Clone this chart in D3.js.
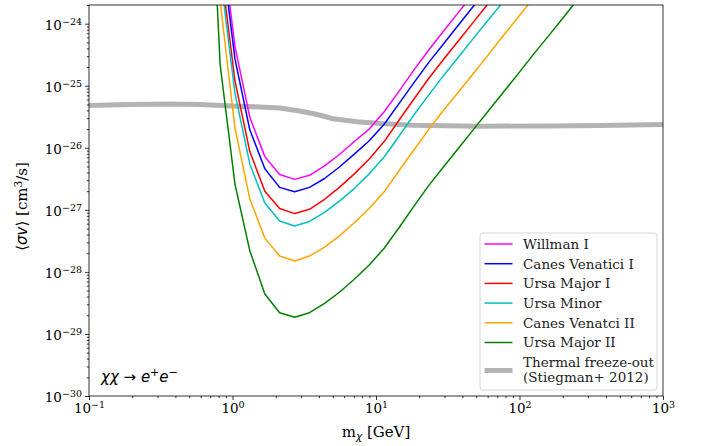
<!DOCTYPE html>
<html>
<head>
    <meta charset="utf-8">
    <title>Dwarf limits - chi chi to e+ e-</title>
    <style>
        body { margin: 0; background: #fff; }
        .curve { fill: none; stroke-linejoin: round; }
    </style>
    <script src="https://d3js.org/d3.v7.min.js"></script>
</head>
<body>
    <div id="chart"></div>
    <script>
        // dark matter mass grid [GeV]
        const masses = [0.645, 0.82, 1.04, 1.32, 1.68, 2.13, 2.71, 3.44, 4.38, 5.56, 7.06, 8.97,
            11.4, 14.5, 18.4, 23.4, 29.7, 37.8, 48.0, 61.0, 77.4, 98.4, 125, 159, 202, 256, 326];

        // <sigma v> limits [cm^3/s], one entry per mass (stops once off the top)
        const willman = [3.6e-18, 3.6e-23, 4.3e-25, 3.1e-26, 7.2e-27, 3.7e-27, 3.1e-27, 3.6e-27, 5.1e-27,
            7.8e-27, 1.26e-26, 2.0e-26, 3.8e-26, 8.2e-26, 1.8e-25, 3.8e-25, 7.7e-25, 1.55e-24, 3.1e-24, 6.2e-24];
        const canesI = [2.3e-18, 2.3e-23, 2.7e-25, 1.95e-26, 4.6e-27, 2.3e-27, 1.95e-27, 2.3e-27, 3.2e-27,
            4.9e-27, 7.9e-27, 1.3e-26, 2.4e-26, 5.2e-26, 1.12e-25, 2.4e-25, 4.8e-25, 9.7e-25, 1.95e-24, 3.9e-24];
        const ursaMajorI = [1.0e-18, 1.0e-23, 1.2e-25, 8.7e-27, 2.0e-27, 1.05e-27, 8.7e-28, 1.02e-27, 1.48e-27,
            2.3e-27, 3.8e-27, 6.6e-27, 1.26e-26, 2.8e-26, 6.1e-26, 1.33e-25, 2.7e-25, 5.4e-25, 1.08e-24, 2.15e-24, 4.3e-24];
        const ursaMinor = [6.5e-19, 6.5e-24, 7.6e-26, 5.5e-27, 1.29e-27, 6.6e-28, 5.5e-28, 6.5e-28, 9.1e-28,
            1.38e-27, 2.2e-27, 3.8e-27, 7.1e-27, 1.55e-26, 3.4e-26, 7.2e-26, 1.48e-25, 2.95e-25, 5.9e-25,
            1.17e-24, 2.3e-24, 4.7e-24];
        const canesII = [1.8e-19, 2.3e-24, 2.1e-26, 1.5e-27, 3.5e-28, 1.8e-28, 1.5e-28, 1.8e-28, 2.5e-28,
            3.8e-28, 6.2e-28, 1.05e-27, 1.95e-27, 4.3e-27, 9.3e-27, 2.0e-26, 4.1e-26, 8.1e-26, 1.6e-25,
            3.2e-25, 6.5e-25, 1.29e-24, 2.6e-24, 5.1e-24];
        const ursaMajorII = [2.2e-20, 2.2e-25, 2.6e-27, 2.2e-28, 4.4e-29, 2.2e-29, 1.86e-29, 2.2e-29, 3.1e-29,
            4.7e-29, 7.6e-29, 1.29e-28, 2.4e-28, 5.2e-28, 1.15e-27, 2.5e-27, 5.0e-27, 1.0e-26, 2.0e-26,
            4.0e-26, 7.9e-26, 1.58e-25, 3.2e-25, 6.3e-25, 1.26e-24, 2.5e-24, 5.0e-24];

        // thermal relic cross section (Steigman+ 2012)
        const thermalMass = [0.1, 0.193, 0.367, 0.594, 1.0, 1.55, 2.14, 2.95, 3.76, 4.41, 5.02, 7.38,
            10.7, 18.1, 53.1, 163, 364, 1000];
        const thermalSv = [4.8e-26, 4.98e-26, 5.06e-26, 4.98e-26, 4.71e-26, 4.54e-26, 4.38e-26, 3.92e-26,
            3.5e-26, 3.19e-26, 2.93e-26, 2.62e-26, 2.46e-26, 2.31e-26, 2.23e-26, 2.24e-26, 2.29e-26, 2.37e-26];

        const names = ["Willman I", "Canes Venatici I", "Ursa Major I", "Ursa Minor", "Canes Venatci II", "Ursa Major II"];
        const colors = ["#ff00ff", "#0000ff", "#ff0000", "#00bfbf", "#ffa500", "#008000"];
        const series = [willman, canesI, ursaMajorI, ursaMinor, canesII, ursaMajorII];

        const xTicks = [0.1, 1, 10, 100, 1000];
        const yTicks = [1e-30, 1e-29, 1e-28, 1e-27, 1e-26, 1e-25, 1e-24];

        const width = 702, height = 446;
        const margin = {top: 5, right: 39, bottom: 50, left: 89};
        const serif = "'DejaVu Serif'";

        const x = d3.scaleLog().domain([0.1, 1000]).range([margin.left, width - margin.right]);
        const y = d3.scaleLog().domain([1e-30, 2e-24]).range([height - margin.bottom, margin.top]);

        const svg = d3.select("#chart").append("svg")
            .attr("width", width)
            .attr("height", height);

        svg.append("clipPath").attr("id", "plot-clip")
            .append("rect")
            .attr("x", x.range()[0]).attr("y", y.range()[1])
            .attr("width", x.range()[1] - x.range()[0])
            .attr("height", y.range()[0] - y.range()[1]);

        const plot = svg.append("g").attr("clip-path", "url(#plot-clip)");

        const line = d3.line().x(d => x(d[0])).y(d => y(d[1]));

        // thermal band first, curves drawn over it
        plot.append("path")
            .attr("class", "curve")
            .attr("d", line(d3.zip(thermalMass, thermalSv)))
            .style("stroke", "#b3b3b3")
            .style("stroke-width", "5px");

        series.forEach((vals, i) => {
            plot.append("path")
                .attr("class", "curve")
                .attr("d", line(vals.map((v, j) => [masses[j], v])))
                .style("stroke", colors[i])
                .style("stroke-width", "1.5px");
        });

        // superscript tick labels
        function powLabel(sel, v) {
            const e = Math.round(Math.log10(v));
            sel.text("")
                .style("font-family", serif).style("font-size", "13.5px").style("fill", "#000");
            sel.append("tspan").text("10");
            sel.append("tspan").attr("dy", "-0.5em").style("font-size", "9.5px")
                .text(String(e).replace("-", "\u2212"));
        }

        const minorX = [];
        for (let d = 0.1; d < 1000; d *= 10) for (let k = 2; k <= 9; k++) minorX.push(d * k);
        const minorY = [];
        for (let d = 1e-30; d < 1e-24; d *= 10) for (let k = 2; k <= 9; k++) minorY.push(d * k);
        minorY.push(2e-24);

        const xAxis = svg.append("g")
            .attr("transform", `translate(0,${y.range()[0]})`)
            .call(d3.axisBottom(x).tickValues(xTicks).tickSize(4).tickPadding(3));
        xAxis.selectAll(".tick text").each(function(d) { powLabel(d3.select(this), d); });
        svg.append("g")
            .attr("transform", `translate(0,${y.range()[0]})`)
            .call(d3.axisBottom(x).tickValues(minorX).tickSize(2.2).tickFormat(""));

        const yAxis = svg.append("g")
            .attr("transform", `translate(${x.range()[0]},0)`)
            .call(d3.axisLeft(y).tickValues(yTicks).tickSize(4).tickPadding(3));
        yAxis.selectAll(".tick text").each(function(d) { powLabel(d3.select(this), d); })
            .attr("dy", "0.42em");
        svg.append("g")
            .attr("transform", `translate(${x.range()[0]},0)`)
            .call(d3.axisLeft(y).tickValues(minorY).tickSize(2.2).tickFormat(""));

        svg.selectAll(".domain").remove();
        svg.selectAll(".tick line").attr("stroke", "#000").attr("stroke-width", 0.8);

        // frame
        svg.append("rect")
            .attr("x", x.range()[0]).attr("y", y.range()[1])
            .attr("width", x.range()[1] - x.range()[0])
            .attr("height", y.range()[0] - y.range()[1])
            .attr("fill", "none").attr("stroke", "#000").attr("stroke-width", 0.8);

        // axis labels
        const xl = svg.append("text")
            .attr("x", (x.range()[0] + x.range()[1]) / 2)
            .attr("y", 437)
            .attr("text-anchor", "middle")
            .style("font-family", serif).style("font-size", "15px");
        xl.append("tspan").text("m");
        xl.append("tspan").attr("dy", "3").style("font-size", "10.5px")
            .style("font-family", "'DejaVu Sans'").style("font-style", "italic").text("\u03c7");
        xl.append("tspan").attr("dy", "-3").text(" [GeV]");

        const yl = svg.append("text")
            .attr("transform", `translate(27,${(y.range()[0] + y.range()[1]) / 2 + 6}) rotate(-90)`)
            .attr("text-anchor", "middle")
            .style("font-family", serif).style("font-size", "15px");
        yl.append("tspan").style("font-family", "'DejaVu Sans'").text("\u27e8");
        yl.append("tspan").style("font-family", "'DejaVu Sans'").style("font-style", "italic").text("\u03c3v");
        yl.append("tspan").style("font-family", "'DejaVu Sans'").text("\u27e9");
        yl.append("tspan").text(" [cm");
        yl.append("tspan").attr("dy", "-5").style("font-size", "10.5px").text("3");
        yl.append("tspan").attr("dy", "5").text("/s]");

        // process annotation
        const ann = svg.append("text")
            .attr("x", 101).attr("y", 382)
            .style("font-family", "'DejaVu Sans'").style("font-size", "15px");
        ann.append("tspan").style("font-style", "italic").text("\u03c7\u03c7");
        ann.append("tspan").text(" \u2192 ");
        ann.append("tspan").style("font-style", "italic").text("e");
        ann.append("tspan").attr("dy", "-6").style("font-size", "11px").text("+");
        ann.append("tspan").attr("dy", "6").style("font-style", "italic").text("e");
        ann.append("tspan").attr("dy", "-6").style("font-size", "11px").text("\u2212");

        // legend
        const leg = svg.append("g")
            .style("font-family", serif).style("font-size", "13.5px").style("fill", "#222");
        leg.append("rect")
            .attr("x", 480).attr("y", 233).attr("width", 177).attr("height", 157)
            .attr("rx", 3)
            .style("fill", "#fff").style("fill-opacity", 0.8)
            .style("stroke", "#d6d6d6").style("stroke-width", 1);
        names.forEach((n, i) => {
            const yy = 244 + i * 19.7;
            leg.append("line")
                .attr("x1", 484.5).attr("x2", 512.5).attr("y1", yy).attr("y2", yy)
                .style("stroke", colors[i]).style("stroke-width", 1.5);
            leg.append("text").attr("x", 523).attr("y", yy + 4.8).text(n);
        });
        leg.append("line")
            .attr("x1", 484.5).attr("x2", 512.5).attr("y1", 370.5).attr("y2", 370.5)
            .style("stroke", "#b3b3b3").style("stroke-width", 5);
        leg.append("text").attr("x", 523).attr("y", 366.5).text("Thermal freeze-out");
        leg.append("text").attr("x", 523).attr("y", 381.5).text("(Stiegman+ 2012)");
    </script>
</body>
</html>
